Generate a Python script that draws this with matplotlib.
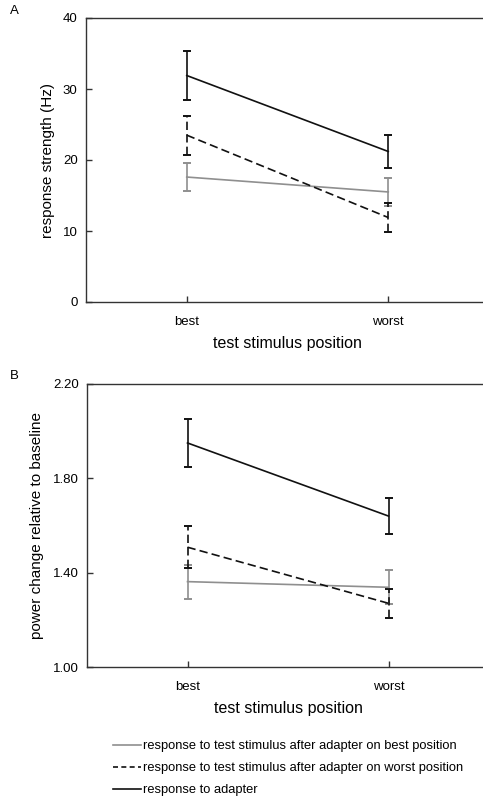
import matplotlib
matplotlib.use("Agg")
import matplotlib.pyplot as plt
from matplotlib.lines import Line2D

plt.rcParams['font.family'] = ['Liberation Sans', 'DejaVu Sans']

categories = ["best", "worst"]
series_labels = [
    "response to test stimulus after adapter on best position",
    "response to test stimulus after adapter on worst position",
    "response to adapter",
]

# Panel A: response strength (Hz)
a_best_adapt_best = [17.6, 15.5]
a_best_adapt_best_err = [2.0, 2.0]
a_worst_adapt = [23.5, 11.9]
a_worst_adapt_err = [2.75, 2.0]
a_adapter = [31.9, 21.2]
a_adapter_err = [3.5, 2.3]

# Panel B: power change relative to baseline
b_best_adapt_best = [1.362, 1.338]
b_best_adapt_best_err = [0.072, 0.072]
b_worst_adapt = [1.508, 1.27]
b_worst_adapt_err = [0.088, 0.062]
b_adapter = [1.95, 1.64]
b_adapter_err = [0.10, 0.078]

a_yticks = [0, 10, 20, 30, 40]
b_yticks = [1.00, 1.40, 1.80, 2.20]

GRAY = "#8f8f8f"
BLACK = "#111111"
SPINE = "#333333"

fig = plt.figure(figsize=(4.83, 7.98), dpi=100)

def draw(ax, series, ylim, yticks, ylabel, fmt):
    x = list(range(len(categories)))
    styles = [(GRAY, "-"), (BLACK, (0, (5, 2.5))), (BLACK, "-")]
    for (vals, errs), (col, ls) in zip(series, styles):
        line, caps, bars = ax.errorbar(x, vals, yerr=errs, color=col, linestyle=ls,
                                       linewidth=1.2, elinewidth=1.2, capsize=3.2,
                                       capthick=1.4)
        for b in bars:
            b.set_linestyle(ls)
    ax.set_xlim(-0.5, 1.5)
    ax.set_ylim(*ylim)
    ax.set_yticks(yticks)
    ax.set_yticklabels([fmt.format(t) for t in yticks])
    ax.set_xticks(x)
    ax.set_xticklabels(categories)
    ax.tick_params(direction="in", length=4, width=1, colors=SPINE, labelsize=9.5,
                   labelcolor="black")
    ax.tick_params(axis="x", pad=10)
    ax.tick_params(axis="y", pad=6)
    for s in ["left", "bottom", "top", "right"]:
        ax.spines[s].set_color(SPINE)
        ax.spines[s].set_linewidth(1.0)
    ax.set_ylabel(ylabel, fontsize=11)
    ax.set_xlabel("test stimulus position", fontsize=11.5, labelpad=6)

axA = fig.add_axes([86/483, 1-302/798, 403/483, 284/798])
draw(axA, [(a_best_adapt_best, a_best_adapt_best_err),
           (a_worst_adapt, a_worst_adapt_err),
           (a_adapter, a_adapter_err)],
     (0, 40), a_yticks, "response strength (Hz)", "{:.0f}")
axA.yaxis.set_label_coords(-0.077, 0.5)

axB = fig.add_axes([87/483, 1-667/798, 402/483, 283/798])
draw(axB, [(b_best_adapt_best, b_best_adapt_best_err),
           (b_worst_adapt, b_worst_adapt_err),
           (b_adapter, b_adapter_err)],
     (1.0, 2.2), b_yticks, "power change relative to baseline", "{:.2f}")
axB.yaxis.set_label_coords(-0.107, 0.5)

fig.text(14/483, 1-11/798, "A", fontsize=9.5, ha="center", va="center")
fig.text(14/483, 1-376/798, "B", fontsize=9.5, ha="center", va="center")

handles = [Line2D([], [], color=GRAY, lw=1.2),
           Line2D([], [], color=BLACK, lw=1.2, linestyle=(0, (3, 2))),
           Line2D([], [], color=BLACK, lw=1.2)]
fig.legend(handles, series_labels, loc="upper left",
           bbox_to_anchor=(113/483, 1-740/798), frameon=False, fontsize=9.3,
           handlelength=2.2, handletextpad=0.15, labelspacing=0.78,
           borderpad=0, borderaxespad=0)

fig.savefig("out.png", dpi=100)
